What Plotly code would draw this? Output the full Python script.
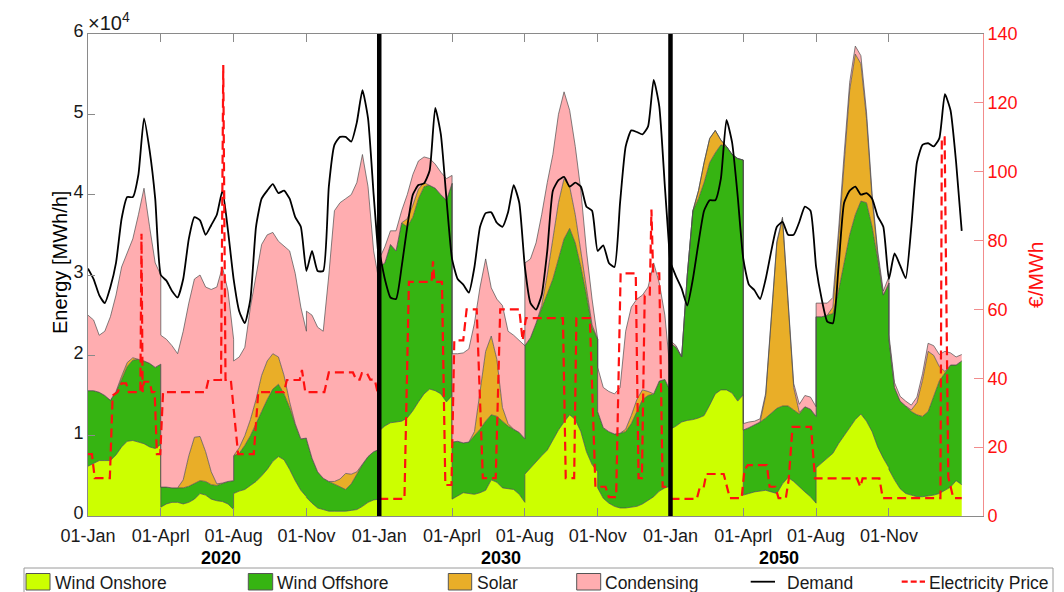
import numpy as np
import plotly.graph_objects as go

# ---------------------------------------------------------------- data
YEARS = ["2020", "2030", "2050"]
WEEKS_PER_YEAR = 52
WEEKS_PER_PERIOD = 13          # each year = 4 representative periods
SAMPLES_PER_PERIOD = 14        # weekly samples 0..13 inside a period
UNIT = 1e4                     # generation values below are in 10^4 MWh/h

X_TICK_LABELS = ["01-Jan", "01-Aprl", "01-Aug", "01-Nov"]
Y_TICK_LABELS = ["0", "1", "2", "3", "4", "5", "6"]
PRICE_TICKS = [0, 20, 40, 60, 80, 100, 120, 140]

# --- 2020 (four periods x 14 samples)
onshore_2020 = [
    0.62, 0.66, 0.69, 0.69, 0.69, 0.76, 0.86, 0.93, 0.94, 0.92, 0.90, 0.86, 0.84, 0.89,
    0.11, 0.15, 0.17, 0.17, 0.15, 0.17, 0.21, 0.28, 0.26, 0.21, 0.19, 0.18, 0.15, 0.08,
    0.28, 0.31, 0.33, 0.38, 0.43, 0.50, 0.58, 0.68, 0.74, 0.70, 0.58, 0.44, 0.32, 0.24,
    0.23, 0.16, 0.10, 0.08, 0.06, 0.06, 0.06, 0.06, 0.07, 0.08, 0.12, 0.17, 0.20, 0.21]
offshore_2020 = [
    0.94, 0.90, 0.85, 0.81, 0.75, 0.79, 0.84, 0.93, 1.00, 1.03, 1.03, 1.04, 1.01, 1.00,
    0.25, 0.21, 0.18, 0.18, 0.20, 0.20, 0.19, 0.16, 0.17, 0.18, 0.19, 0.23, 0.28, 0.36,
    0.47, 0.47, 0.55, 0.62, 0.73, 0.80, 0.87, 0.90, 0.90, 0.82, 0.77, 0.70, 0.64, 0.73,
    0.73, 0.56, 0.45, 0.39, 0.37, 0.34, 0.30, 0.27, 0.33, 0.44, 0.52, 0.57, 0.60, 0.62]
solar_2020 = [
    0, 0, 0, 0, 0, 0, 0.04, 0.05, 0.03, 0, 0, 0, 0, 0,
    0, 0, 0, 0, 0.10, 0.38, 0.58, 0.55, 0.37, 0.16, 0.02, 0, 0, 0,
    0, 0.07, 0.12, 0.20, 0.29, 0.45, 0.48, 0.44, 0.34, 0.23, 0.07, 0.01, 0, 0,
    0, 0, 0, 0, 0, 0.03, 0.10, 0.20, 0.12, 0.03, 0, 0, 0, 0]
condensing_2020 = [
    0.94, 0.88, 0.71, 0.80, 1.04, 1.20, 1.36, 1.36, 1.48, 1.80, 2.15, 1.70, 1.30, 1.11,
    1.89, 1.84, 1.77, 1.67, 1.85, 1.90, 1.97, 2.01, 2.05, 2.27, 2.45, 2.69, 2.37, 1.76,
    1.18, 1.13, 1.10, 1.40, 1.55, 1.63, 1.57, 1.51, 1.44, 1.61, 1.88, 1.87, 1.64, 1.33,
    1.59, 1.78, 1.80, 1.83, 2.57, 3.37, 3.44, 3.42, 3.48, 3.60, 3.86, 3.36, 2.50, 2.07]

# --- 2030
onshore_2030 = [
    1.06, 1.12, 1.16, 1.17, 1.18, 1.22, 1.31, 1.42, 1.52, 1.58, 1.56, 1.52, 1.42, 1.50,
    0.21, 0.25, 0.29, 0.28, 0.27, 0.29, 0.32, 0.45, 0.42, 0.35, 0.34, 0.33, 0.27, 0.17,
    0.52, 0.60, 0.68, 0.75, 0.82, 0.95, 1.07, 1.17, 1.26, 1.20, 1.05, 0.80, 0.64, 0.55,
    0.35, 0.22, 0.16, 0.12, 0.10, 0.10, 0.11, 0.12, 0.15, 0.19, 0.24, 0.31, 0.35, 0.37]
offshore_2030 = [
    2.04, 2.03, 2.22, 2.13, 2.47, 2.38, 2.41, 2.53, 2.58, 2.54, 2.52, 2.48, 2.51, 2.64,
    0.71, 0.68, 0.62, 0.64, 0.73, 0.79, 0.86, 0.81, 0.82, 0.83, 0.78, 0.75, 0.77, 0.79,
    1.60, 1.62, 1.72, 1.83, 1.96, 2.00, 2.13, 2.28, 2.32, 2.20, 2.05, 1.95, 1.71, 1.65,
    0.95, 0.88, 0.89, 0.90, 0.93, 0.95, 1.04, 1.18, 1.30, 1.31, 1.28, 1.37, 1.35, 1.18]
solar_2030 = [
    0, 0, 0, 0, 0, 0.10, 0.15, 0.12, 0.05, 0, 0, 0, 0, 0,
    0, 0, 0, 0, 0.05, 0.47, 0.87, 0.98, 0.71, 0.17, 0.03, 0, 0, 0,
    0, 0, 0, 0.04, 0.22, 0.50, 0.70, 0.75, 0.52, 0.35, 0.20, 0.10, 0.03, 0,
    0, 0, 0, 0, 0, 0.03, 0.10, 0.15, 0.12, 0.05, 0, 0, 0, 0]
condensing_2030 = [
    0.10, 0.20, 0.17, 0.25, 0.15, 0.30, 0.38, 0.35, 0.32, 0.33, 0.30, 0.28, 0.27, 0.10,
    1.10, 1.09, 1.12, 1.16, 1.35, 1.30, 1.15, 0.60, 0.75, 1.27, 1.15, 1.17, 1.14, 1.16,
    1.03, 0.98, 1.00, 1.13, 1.15, 1.05, 1.10, 1.08, 0.95, 0.85, 0.75, 0.45, 0.32, 0.00,
    0.55, 0.50, 0.50, 0.50, 0.57, 1.22, 1.35, 1.25, 1.18, 1.30, 1.63, 1.22, 0.80, 0.20]

# --- 2050
onshore_2050 = [
    1.08, 1.12, 1.17, 1.19, 1.20, 1.22, 1.25, 1.38, 1.52, 1.57, 1.57, 1.53, 1.43, 1.51,
    0.26, 0.28, 0.30, 0.31, 0.32, 0.30, 0.28, 0.40, 0.48, 0.43, 0.36, 0.30, 0.24, 0.16,
    0.60, 0.66, 0.72, 0.78, 0.90, 1.00, 1.10, 1.20, 1.27, 1.18, 1.05, 0.86, 0.72, 0.60,
    0.58, 0.45, 0.34, 0.28, 0.26, 0.24, 0.24, 0.25, 0.26, 0.28, 0.32, 0.36, 0.44, 0.39]
offshore_2050 = [
    1.07, 0.98, 0.81, 1.81, 2.60, 2.73, 2.90, 3.02, 3.00, 3.05, 3.03, 2.97, 3.02, 2.92,
    0.81, 0.82, 0.83, 0.86, 0.90, 0.98, 1.06, 0.97, 0.89, 0.89, 0.91, 1.06, 1.09, 1.08,
    1.88, 1.82, 1.78, 1.74, 1.90, 2.15, 2.40, 2.55, 2.65, 2.72, 2.55, 2.34, 2.03, 2.30,
    1.62, 1.15, 1.09, 1.09, 1.04, 1.02, 1.00, 1.05, 1.24, 1.40, 1.46, 1.52, 1.44, 1.54]
solar_2050 = [
    0, 0, 0, 0, 0, 0.10, 0.25, 0.30, 0.28, 0.06, 0, 0, 0, 0,
    0, 0, 0, 0, 0.28, 1.22, 2.06, 2.33, 1.23, 0.28, 0.02, 0, 0, 0,
    0, 0, 0, 0.08, 0.65, 1.25, 1.80, 2.00, 1.71, 1.05, 0.35, 0.05, 0, 0,
    0, 0, 0, 0, 0.02, 0.15, 0.45, 0.75, 0.50, 0.18, 0.02, 0, 0, 0]
condensing_2050 = [
    0.03, 0.02, 0, 0, 0, 0, 0, 0, 0, 0, 0, 0, 0, 0,
    0.08, 0.07, 0.05, 0.04, 0.03, 0.02, 0.02, 0.02, 0.03, 0.05, 0.10, 0.14, 0.15, 0.12,
    0.17, 0.17, 0.15, 0.12, 0.10, 0.10, 0.10, 0.10, 0.10, 0.08, 0.06, 0.05, 0.05, 0.08,
    0.06, 0.06, 0.06, 0.06, 0.06, 0.07, 0.08, 0.10, 0.12, 0.15, 0.25, 0.15, 0.10, 0.08]

# --- demand, weekly 0..52 per year (10^4 MWh/h)
demand_2020 = [3.08, 2.95, 2.75, 2.65, 2.85, 3.15, 3.70, 3.97, 3.97, 4.25, 4.95, 4.55, 3.95,
               3.00, 2.93, 2.80, 2.72, 2.95, 3.45, 3.72, 3.68, 3.50, 3.62, 3.75, 4.05, 3.55,
               2.95, 2.55, 2.40, 2.70, 3.60, 3.95, 4.05, 4.13, 4.02, 4.05, 3.95, 3.72, 3.60,
               3.05, 3.30, 3.05, 3.05, 4.10, 4.62, 4.72, 4.72, 4.66, 4.90, 5.30, 4.95, 4.00, 3.10]
demand_2030 = [3.30, 2.95, 2.72, 2.70, 3.10, 3.60, 4.00, 4.12, 4.14, 4.30, 5.08, 4.75, 3.95,
               3.20, 2.95, 2.88, 2.78, 3.10, 3.60, 3.77, 3.78, 3.65, 3.60, 3.78, 4.12, 3.90,
               3.10, 2.65, 2.57, 2.75, 3.30, 4.05, 4.18, 4.22, 4.10, 4.15, 4.10, 3.85, 3.80,
               3.30, 3.37, 3.15, 3.10, 3.90, 4.60, 4.80, 4.78, 4.75, 4.85, 5.43, 5.10, 4.10, 3.10]
demand_2050 = [3.15, 2.98, 2.83, 2.62, 2.95, 3.40, 3.80, 3.93, 3.93, 4.20, 4.93, 4.65, 3.98,
               3.20, 2.88, 2.81, 2.70, 2.95, 3.30, 3.60, 3.66, 3.50, 3.50, 3.66, 3.85, 3.80,
               3.10, 2.70, 2.42, 2.40, 3.10, 3.90, 4.05, 4.10, 4.00, 4.02, 3.95, 3.73, 3.60,
               2.95, 3.27, 3.12, 2.96, 3.60, 4.40, 4.62, 4.64, 4.60, 4.70, 5.25, 5.05, 4.40, 3.55]

# --- electricity price (EUR/MWh) at week break-points of each year
price_week_2020 = [0, 0.7, 1.2, 3.9, 4.4, 5.3, 6.0, 6.8, 7.3, 9.35, 9.55, 9.75, 10.0, 11.0, 11.4,
                   11.9, 12.3, 12.9, 13.4, 21.0, 21.5, 23.75, 24.15, 24.55, 25.5, 26.8, 29.6,
                   30.4, 35.0, 35.5, 37.8, 38.2, 38.8, 42.2, 43.0, 47.3, 47.9, 48.5, 48.9, 49.8,
                   50.4, 51.2, 51.7, 52.0]
price_2020 = [18, 18, 11, 11, 35, 36, 38.5, 38.5, 36, 36, 82, 36, 39, 39, 36,
              36, 18, 18, 36, 36, 39.5, 39.5, 131, 39.5, 39.5, 18, 18,
              36, 36, 39.5, 39.5, 42.4, 36, 36, 41.7, 41.7, 39.6, 39.6, 41.5, 41.5,
              39.6, 39.6, 36, 36]
price_week_2030 = [0, 4.5, 5.3, 9.35, 9.6, 9.85, 11.2, 11.8, 12.9, 13.4, 15.0, 15.6, 17.4, 18.5,
                   20.8, 21.6, 25.0, 25.6, 26.2, 32.8, 33.3, 34.8, 35.2, 37.6, 38.6, 40.4, 41.0,
                   42.3, 43.1, 45.8, 46.3, 46.9, 47.4, 48.3, 48.6, 48.9, 50.0, 50.6, 52.0]
price_2030 = [5, 5, 68, 68, 74, 68, 68, 9, 9, 51, 51, 60, 60, 11,
              11, 60, 60, 51, 57.5, 57.5, 11, 11, 57.5, 57.5, 8.5, 8.5, 5.5,
              5.5, 70.5, 70.5, 11, 11, 64, 64, 89, 70.5, 70.5, 8.5, 8.5]
price_week_2050 = [0, 4.7, 5.2, 5.9, 6.4, 9.5, 10.6, 12.7, 13.2, 13.8, 17.2, 17.7, 18.7, 19.3,
                   20.6, 21.1, 21.8, 25.1, 25.8, 33.3, 33.9, 34.3, 37.3, 37.9, 48.2, 48.45,
                   48.95, 49.6, 50.5, 52.0]
price_2050 = [5, 5, 8.1, 8.1, 12.2, 12.2, 5.2, 5.2, 13.3, 14.8, 14.8, 8.5, 8.5, 5.2,
              5.2, 10.5, 25.9, 25.9, 10.9, 10.9, 8.5, 10.9, 10.9, 5.2, 5.2, 110,
              110, 11.3, 5.2, 5.2]

# ---------------------------------------------------------------- styling
C_ON = "#CCFF00"
C_OFF = "#36B412"
C_SOLAR = "#E9AE28"
C_COND = "#FFADB0"
C_EDGE = "#4d4d4d"
C_DEMAND = "#000000"
C_PRICE = "#FF1010"
C_AXIS = "#8a8a8a"
C_AXIS2 = "#F28C8C"
FONT = "Liberation Sans, Arial, sans-serif"
TXT = "#1a1a1a"

W, H = 1064, 592
ML, MR, MT, MB = 88, 81, 34, 76
PW, PH = W - ML - MR, H - MT - MB


def px(x):   # figure pixel -> paper x
    return (x - ML) / PW


def py(y):   # figure pixel -> paper y
    return (H - MB - y) / PH


# ---------------------------------------------------------------- assemble
onshore = onshore_2020 + onshore_2030 + onshore_2050
offshore = offshore_2020 + offshore_2030 + offshore_2050
solar = solar_2020 + solar_2030 + solar_2050
condensing = condensing_2020 + condensing_2030 + condensing_2050

gen_x = []
for i in range(len(YEARS)):
    for p in range(4):
        for k in range(SAMPLES_PER_PERIOD):
            gen_x.append(i * WEEKS_PER_YEAR + p * WEEKS_PER_PERIOD + k)

layers = np.cumsum(np.array([onshore, offshore, solar, condensing]) * UNIT, axis=0)

dem_x, dem_y = [], []
for i, d in enumerate([demand_2020, demand_2030, demand_2050]):
    dem_x += [i * WEEKS_PER_YEAR + k for k in range(len(d))] + [None]
    dem_y += [v * UNIT for v in d] + [None]

pr_x, pr_y = [], []
for i, (wk, pv) in enumerate([(price_week_2020, price_2020),
                              (price_week_2030, price_2030),
                              (price_week_2050, price_2050)]):
    pr_x += [i * WEEKS_PER_YEAR + w for w in wk] + [None]
    pr_y += list(pv) + [None]

fig = go.Figure()
names = ["Wind Onshore", "Wind Offshore", "Solar", "Condensing"]
colors = [C_ON, C_OFF, C_SOLAR, C_COND]
for j in range(4):
    fig.add_trace(go.Scatter(
        x=gen_x, y=layers[j], name=names[j], mode="lines",
        line=dict(color=C_EDGE, width=0.7),
        fill="tozeroy" if j == 0 else "tonexty", fillcolor=colors[j],
        showlegend=False, hoverinfo="skip"))

fig.add_trace(go.Scatter(x=dem_x, y=dem_y, name="Demand", mode="lines",
                         line=dict(color=C_DEMAND, width=1.8, shape="spline", smoothing=0.5),
                         showlegend=False, hoverinfo="skip"))
fig.add_trace(go.Scatter(x=pr_x, y=pr_y, name="Electricity Price", mode="lines",
                         yaxis="y2", line=dict(color=C_PRICE, width=2.2, dash="9px,5px"),
                         showlegend=False, hoverinfo="skip"))

tickvals = [i * WEEKS_PER_YEAR + p * WEEKS_PER_PERIOD
            for i in range(len(YEARS)) for p in range(4)]
ticktext = X_TICK_LABELS * len(YEARS)

shapes = []
# thick year separators
for i in range(1, len(YEARS)):
    shapes.append(dict(type="line", xref="x", yref="paper",
                       x0=i * WEEKS_PER_YEAR, x1=i * WEEKS_PER_YEAR, y0=0, y1=1,
                       line=dict(color="black", width=4.5)))

annotations = []
# year labels under the axis
for yr, cx in zip(YEARS, [220.6, 500.5, 779]):
    annotations.append(dict(text="<b>%s</b>" % yr, x=px(cx), y=py(558), xref="paper",
                            yref="paper", showarrow=False, xanchor="center", yanchor="middle",
                            font=dict(size=18, color="black", family=FONT)))
annotations.append(dict(text="\u00d710<sup>4</sup>", x=px(86), y=py(21), xref="paper",
                        yref="paper", showarrow=False, xanchor="left", yanchor="middle",
                        font=dict(size=20, color=TXT, family=FONT)))
annotations.append(dict(text="Energy [MWh/h]", x=px(60), y=py(263), xref="paper",
                        yref="paper", showarrow=False, textangle=-90,
                        xanchor="center", yanchor="middle",
                        font=dict(size=20, color="black", family=FONT)))
annotations.append(dict(text="\u20ac/MWh", x=px(1035), y=py(275), xref="paper",
                        yref="paper", showarrow=False, textangle=-90,
                        xanchor="center", yanchor="middle",
                        font=dict(size=21, color=C_PRICE, family=FONT)))

# manual legend (box, patches, lines, labels)
shapes.append(dict(type="rect", xref="paper", yref="paper",
                   x0=px(24), x1=px(1053), y0=py(568), y1=py(604),
                   line=dict(color="#9a9a9a", width=1), fillcolor="white", layer="above"))
leg_patches = [(26, 50, 53, "Wind Onshore", C_ON),
               (248.3, 272.7, 275, "Wind Offshore", C_OFF),
               (448.3, 471.7, 474.5, "Solar", C_SOLAR),
               (576.7, 600.7, 602.5, "Condensing", C_COND)]
for x0, x1, tx, label, col in leg_patches:
    shapes.append(dict(type="rect", xref="paper", yref="paper",
                       x0=px(x0), x1=px(x1), y0=py(573.5), y1=py(590),
                       line=dict(color="#555555", width=1), fillcolor=col, layer="above"))
    annotations.append(dict(text=label, x=px(tx), y=py(582.5), xref="paper", yref="paper",
                            showarrow=False, xanchor="left", yanchor="middle",
                            font=dict(size=17.5, color=TXT, family=FONT)))
shapes.append(dict(type="line", xref="paper", yref="paper", x0=px(750.7), x1=px(775),
                   y0=py(581.7), y1=py(581.7), line=dict(color=C_DEMAND, width=1.8),
                   layer="above"))
annotations.append(dict(text="Demand", x=px(785), y=py(582.5), xref="paper", yref="paper",
                        showarrow=False, xanchor="left", yanchor="middle",
                        font=dict(size=17.5, color=TXT, family=FONT)))
shapes.append(dict(type="line", xref="paper", yref="paper", x0=px(901.7), x1=px(925),
                   y0=py(581.7), y1=py(581.7),
                   line=dict(color=C_PRICE, width=2.2, dash="6px,3px"), layer="above"))
annotations.append(dict(text="Electricity Price", x=px(926.5), y=py(582.5), xref="paper",
                        yref="paper", showarrow=False, xanchor="left", yanchor="middle",
                        font=dict(size=17.5, color=TXT, family=FONT)))

fig.update_layout(
    width=W, height=H,
    margin=dict(l=ML, r=MR, t=MT, b=MB, pad=0),
    paper_bgcolor="white", plot_bgcolor="white",
    font=dict(family=FONT, size=18, color=TXT),
    showlegend=False, hovermode=False,
    xaxis=dict(range=[0, 159.8], tickvals=tickvals, ticktext=ticktext,
               ticks="inside", ticklen=8, tickcolor=C_AXIS, tickwidth=1,
               ticklabelstandoff=3,
               showline=True, linecolor=C_AXIS, linewidth=1, mirror="ticks",
               showgrid=False, zeroline=False,
               tickfont=dict(size=18, color=TXT, family=FONT)),
    yaxis=dict(range=[0, 6 * UNIT], tickvals=[k * UNIT for k in range(7)],
               ticktext=Y_TICK_LABELS, ticks="inside", ticklen=7, tickcolor=C_AXIS,
               ticklabelshift=-3,
               showline=True, linecolor=C_AXIS, linewidth=1, mirror=False,
               showgrid=False, zeroline=False,
               tickfont=dict(size=18, color=TXT, family=FONT)),
    yaxis2=dict(range=[0, 140], tickvals=PRICE_TICKS, overlaying="y", side="right",
                ticks="inside", ticklen=9, tickcolor=C_AXIS2,
                showline=True, linecolor=C_AXIS2, linewidth=1,
                showgrid=False, zeroline=False,
                tickfont=dict(size=18, color=C_PRICE, family=FONT)),
    shapes=shapes, annotations=annotations,
)

fig.write_html("out.html", config={"displayModeBar": False})
